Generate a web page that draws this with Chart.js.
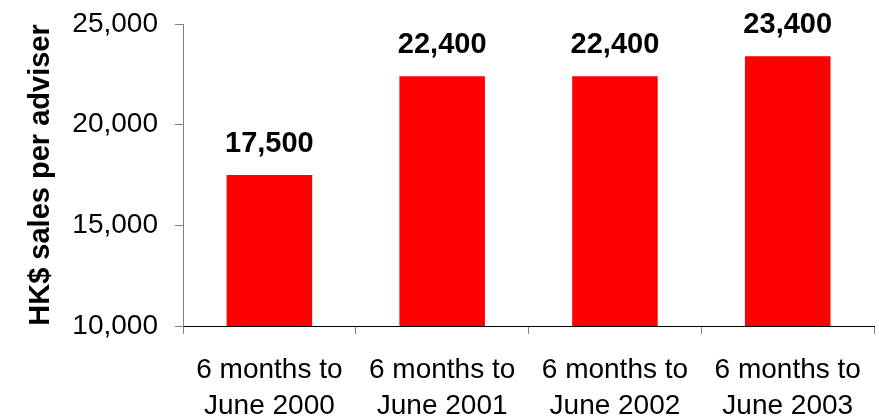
<!DOCTYPE html>
<html>
<head>
<meta charset="UTF-8">
<title>sales per adviser</title>
<script src="https://cdn.jsdelivr.net/npm/chart.js"></script>
<style>
  body { margin: 0; background: #fff; }
</style>
</head>
<body>
<canvas id="salesChart" width="879" height="420"></canvas>
<script>
    // half-year periods, two-line labels
    const periods = [
        ['6 months to', 'June 2000'],
        ['6 months to', 'June 2001'],
        ['6 months to', 'June 2002'],
        ['6 months to', 'June 2003']
    ];
    const salesPerAdviser = [17500, 22400, 22400, 23400];
    const yTicks = [10000, 15000, 20000, 25000];

    const fmt = function (v) { return v.toLocaleString('en-US'); };

    // bold figures above each bar
    const valueLabels = {
        id: 'valueLabels',
        afterDatasetsDraw: function (chart) {
            const ctx = chart.ctx;
            const meta = chart.getDatasetMeta(0);
            ctx.save();
            ctx.font = 'bold 29px "Liberation Sans", Arial, sans-serif';
            ctx.fillStyle = '#000';
            ctx.textAlign = 'center';
            ctx.textBaseline = 'bottom';
            meta.data.forEach(function (bar, i) {
                ctx.fillText(fmt(salesPerAdviser[i]), bar.x, bar.y - 17);
            });
            ctx.restore();
        }
    };

    new Chart(document.getElementById('salesChart'), {
        type: 'bar',
        data: {
            labels: periods,
            datasets: [{
                data: salesPerAdviser,
                backgroundColor: '#ff0000',
                categoryPercentage: 1,
                barPercentage: 0.495
            }]
        },
        options: {
            responsive: false,
            animation: false,
            layout: { padding: { top: 0, right: 1, left: 0, bottom: 0 } },
            plugins: {
                legend: { display: false },
                tooltip: { enabled: false }
            },
            scales: {
                x: {
                    grid: {
                        display: true,
                        drawOnChartArea: false,
                        tickLength: 8,
                        color: '#808080',
                        offset: true
                    },
                    border: { color: '#000', width: 1 },
                    ticks: {
                        color: '#000',
                        padding: 18,
                        maxRotation: 0,
                        font: { family: '"Liberation Sans", Arial, sans-serif', size: 28, lineHeight: 1.29 }
                    },
                    afterFit: function (scale) { scale.height = 94; }
                },
                y: {
                    min: 10000,
                    max: 25000,
                    afterBuildTicks: function (scale) {
                        scale.ticks = yTicks.map(function (v) { return { value: v }; });
                    },
                    grid: {
                        display: true,
                        drawOnChartArea: false,
                        tickLength: 8,
                        color: '#808080'
                    },
                    border: { color: '#808080', width: 1 },
                    ticks: {
                        color: '#000',
                        padding: 17,
                        callback: function (v) { return fmt(v); },
                        // short line box keeps the top label overhang small
                        font: { family: '"Liberation Sans", Arial, sans-serif', size: 28, lineHeight: 0.5 }
                    },
                    title: {
                        display: true,
                        text: 'HK$ sales per adviser',
                        color: '#000',
                        padding: { top: 24, bottom: 0 },
                        font: { family: '"Liberation Sans", Arial, sans-serif', size: 29, weight: 'bold' }
                    },
                    afterFit: function (scale) { scale.width = 183; }
                }
            }
        },
        plugins: [valueLabels]
    });
</script>
</body>
</html>
